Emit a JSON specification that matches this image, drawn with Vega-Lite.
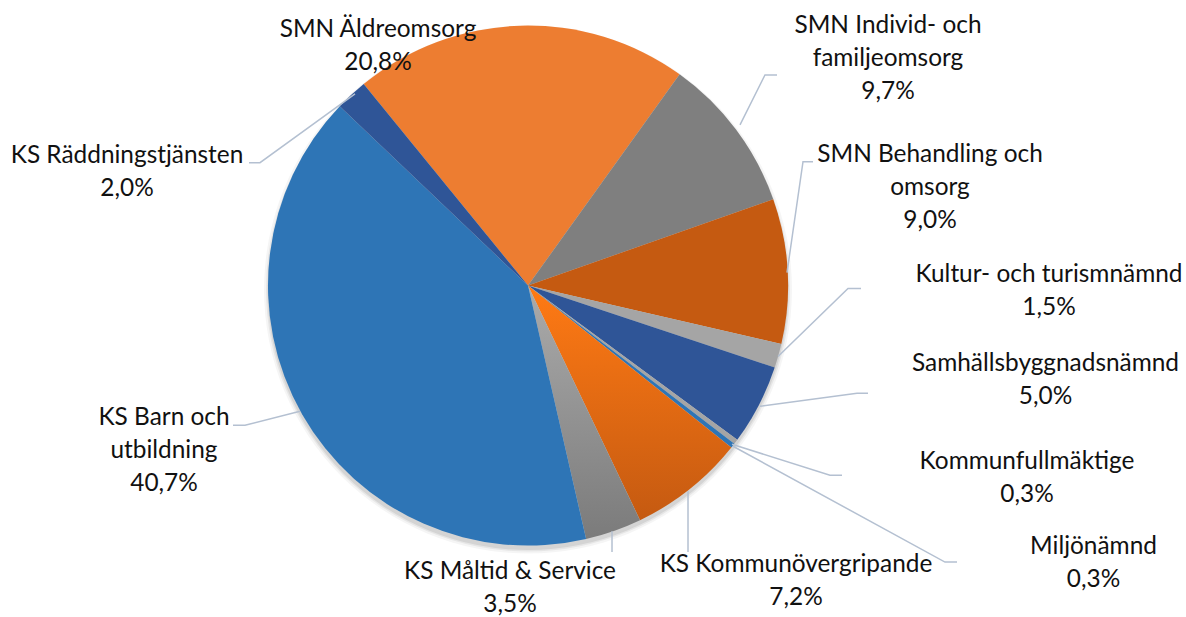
{
  "$schema": "https://vega.github.io/schema/vega-lite/v6.json",
  "width": 1186,
  "height": 617,
  "padding": 0,
  "autosize": {"type": "fit", "contains": "padding"},
  "config": {"view": {"stroke": null}},
  "layer": [
    {
      "data": {"values": [{"cx": 0, "cy": -0.0154}]},
      "mark": {"type": "arc", "theta": 0, "theta2": 6.2832, "outerRadius": 264, "color": "#000000", "opacity": 0.04},
      "encoding": {
        "x": {"field": "cx", "type": "quantitative", "scale": {"domain": [-2.030769, 2.530769], "nice": false, "zero": false}, "axis": null},
        "y": {"field": "cy", "type": "quantitative", "scale": {"domain": [-1.273077, 1.1], "nice": false, "zero": false}, "axis": null}
      }
    },
    {
      "data": {"values": [{"cx": 0, "cy": -0.0154}]},
      "mark": {"type": "arc", "theta": 0, "theta2": 6.2832, "outerRadius": 262, "color": "#000000", "opacity": 0.06},
      "encoding": {
        "x": {"field": "cx", "type": "quantitative", "scale": {"domain": [-2.030769, 2.530769], "nice": false, "zero": false}, "axis": null},
        "y": {"field": "cy", "type": "quantitative", "scale": {"domain": [-1.273077, 1.1], "nice": false, "zero": false}, "axis": null}
      }
    },
    {
      "data": {"values": [{"cx": 0, "cy": -0.0154}]},
      "mark": {"type": "arc", "theta": 0, "theta2": 6.2832, "outerRadius": 260.5, "color": "#000000", "opacity": 0.08},
      "encoding": {
        "x": {"field": "cx", "type": "quantitative", "scale": {"domain": [-2.030769, 2.530769], "nice": false, "zero": false}, "axis": null},
        "y": {"field": "cy", "type": "quantitative", "scale": {"domain": [-1.273077, 1.1], "nice": false, "zero": false}, "axis": null}
      }
    },
    {
      "data": {
        "values": [
          {"name": "SMN Äldreomsorg", "value": 20.8, "ord": 1, "cx": 0, "cy": 0},
          {"name": "SMN Individ- och familjeomsorg", "value": 9.7, "ord": 2, "cx": 0, "cy": 0},
          {"name": "SMN Behandling och omsorg", "value": 9.0, "ord": 3, "cx": 0, "cy": 0},
          {"name": "Kultur- och turismnämnd", "value": 1.5, "ord": 4, "cx": 0, "cy": 0},
          {"name": "Samhällsbyggnadsnämnd", "value": 5.0, "ord": 5, "cx": 0, "cy": 0},
          {"name": "Kommunfullmäktige", "value": 0.3, "ord": 6, "cx": 0, "cy": 0},
          {"name": "Miljönämnd", "value": 0.3, "ord": 7, "cx": 0, "cy": 0},
          {"name": "KS Kommunövergripande", "value": 7.2, "ord": 8, "cx": 0, "cy": 0},
          {"name": "KS Måltid & Service", "value": 3.5, "ord": 9, "cx": 0, "cy": 0},
          {"name": "KS Barn och utbildning", "value": 40.7, "ord": 10, "cx": 0, "cy": 0},
          {"name": "KS Räddningstjänsten", "value": 2.0, "ord": 11, "cx": 0, "cy": 0}
        ]
      },
      "mark": {"type": "arc", "outerRadius": 260},
      "encoding": {
        "x": {"field": "cx", "type": "quantitative", "scale": {"domain": [-2.030769, 2.530769], "nice": false, "zero": false}, "axis": null},
        "y": {"field": "cy", "type": "quantitative", "scale": {"domain": [-1.273077, 1.1], "nice": false, "zero": false}, "axis": null},
        "theta": {"field": "value", "type": "quantitative", "stack": true, "scale": {"range": [-0.6842, 5.599]}},
        "order": {"field": "ord", "type": "quantitative"},
        "color": {
          "condition": [
            {"test": "datum.ord === 8", "value": {"gradient": "linear", "x1": 0, "y1": 0, "x2": 0, "y2": 1, "stops": [{"offset": 0, "color": "#FF7A14"}, {"offset": 1, "color": "#C55A11"}]}},
            {"test": "datum.ord === 9", "value": {"gradient": "linear", "x1": 0, "y1": 0, "x2": 0, "y2": 1, "stops": [{"offset": 0, "color": "#ABABAB"}, {"offset": 1, "color": "#7B7B7B"}]}}
          ],
          "field": "name",
          "type": "nominal",
          "legend": null,
          "scale": {
            "domain": ["SMN Äldreomsorg", "SMN Individ- och familjeomsorg", "SMN Behandling och omsorg", "Kultur- och turismnämnd", "Samhällsbyggnadsnämnd", "Kommunfullmäktige", "Miljönämnd", "KS Kommunövergripande", "KS Måltid & Service", "KS Barn och utbildning", "KS Räddningstjänsten"],
            "range": ["#ED7D31", "#7F7F7F", "#C55A11", "#A5A5A5", "#2F5597", "#A5A5A5", "#2E75B6", "#E86C12", "#959595", "#2E75B6", "#2F5597"]
          }
        }
      }
    },
    {
      "data": {
        "values": [
          {"name": "Räddning", "i": 1, "lx": -1.0731, "ly": 0.4731},
          {"name": "Räddning", "i": 2, "lx": -1.0308, "ly": 0.4731},
          {"name": "Räddning", "i": 3, "lx": -0.6654, "ly": 0.7385},
          {"name": "Individ", "i": 1, "lx": 0.9577, "ly": 0.8115},
          {"name": "Individ", "i": 2, "lx": 0.9115, "ly": 0.8115},
          {"name": "Individ", "i": 3, "lx": 0.8154, "ly": 0.6192},
          {"name": "Behandling", "i": 1, "lx": 1.0962, "ly": 0.4769},
          {"name": "Behandling", "i": 2, "lx": 1.0577, "ly": 0.4769},
          {"name": "Behandling", "i": 3, "lx": 0.9962, "ly": 0.05},
          {"name": "Kultur", "i": 1, "lx": 1.2808, "ly": -0.0115},
          {"name": "Kultur", "i": 2, "lx": 1.2308, "ly": -0.0115},
          {"name": "Kultur", "i": 3, "lx": 0.9615, "ly": -0.2731},
          {"name": "Samh", "i": 1, "lx": 1.3077, "ly": -0.4154},
          {"name": "Samh", "i": 2, "lx": 1.2654, "ly": -0.4154},
          {"name": "Samh", "i": 3, "lx": 0.8923, "ly": -0.4654},
          {"name": "KF", "i": 1, "lx": 1.2077, "ly": -0.7308},
          {"name": "KF", "i": 2, "lx": 1.1615, "ly": -0.7308},
          {"name": "KF", "i": 3, "lx": 0.7846, "ly": -0.6115},
          {"name": "Miljo", "i": 1, "lx": 1.65, "ly": -1.0654},
          {"name": "Miljo", "i": 2, "lx": 1.6038, "ly": -1.0654},
          {"name": "Miljo", "i": 3, "lx": 0.7885, "ly": -0.6192},
          {"name": "KSK", "i": 1, "lx": 0.6154, "ly": -1.0269},
          {"name": "KSK", "i": 2, "lx": 0.6154, "ly": -0.7923},
          {"name": "Maltid", "i": 1, "lx": 0.3231, "ly": -1.0269},
          {"name": "Maltid", "i": 2, "lx": 0.3231, "ly": -0.9462},
          {"name": "Barn", "i": 1, "lx": -1.1346, "ly": -0.5385},
          {"name": "Barn", "i": 2, "lx": -1.0885, "ly": -0.5385},
          {"name": "Barn", "i": 3, "lx": -0.8769, "ly": -0.4846}
        ]
      },
      "mark": {"type": "line", "color": "#B4C0D1", "strokeWidth": 1.5},
      "encoding": {
        "x": {"field": "lx", "type": "quantitative", "scale": {"domain": [-2.030769, 2.530769], "nice": false, "zero": false}, "axis": null},
        "y": {"field": "ly", "type": "quantitative", "scale": {"domain": [-1.273077, 1.1], "nice": false, "zero": false}, "axis": null},
        "detail": {"field": "name", "type": "nominal"},
        "order": {"field": "i", "type": "quantitative"}
      }
    },
    {
      "data": {
        "values": [
          {"label": "SMN Äldreomsorg\n20,8%", "tx": -0.5769, "ty": 0.9577},
          {"label": "SMN Individ- och\nfamiljeomsorg\n9,7%", "tx": 1.3846, "ty": 0.9731},
          {"label": "SMN Behandling och\nomsorg\n9,0%", "tx": 1.5462, "ty": 0.4769},
          {"label": "Kultur- och turismnämnd\n1,5%", "tx": 2.0038, "ty": 0.0154},
          {"label": "Samhällsbyggnadsnämnd\n5,0%", "tx": 1.9904, "ty": -0.3308},
          {"label": "Kommunfullmäktige\n0,3%", "tx": 1.9192, "ty": -0.7077},
          {"label": "Miljönämnd\n0,3%", "tx": 2.175, "ty": -1.0346},
          {"label": "KS Kommunövergripande\n7,2%", "tx": 1.0308, "ty": -1.1038},
          {"label": "KS Måltid & Service\n3,5%", "tx": -0.0692, "ty": -1.1308},
          {"label": "KS Barn och\nutbildning\n40,7%", "tx": -1.4, "ty": -0.5385},
          {"label": "KS Räddningstjänsten\n2,0%", "tx": -1.5423, "ty": 0.4731}
        ]
      },
      "mark": {"type": "text", "align": "center", "baseline": "alphabetic", "lineBreak": "\n", "lineHeight": 33, "font": "Lato", "fontSize": 24.4, "color": "#111111"},
      "encoding": {
        "x": {"field": "tx", "type": "quantitative", "scale": {"domain": [-2.030769, 2.530769], "nice": false, "zero": false}, "axis": null},
        "y": {"field": "ty", "type": "quantitative", "scale": {"domain": [-1.273077, 1.1], "nice": false, "zero": false}, "axis": null},
        "text": {"field": "label", "type": "nominal"}
      }
    }
  ]
}
